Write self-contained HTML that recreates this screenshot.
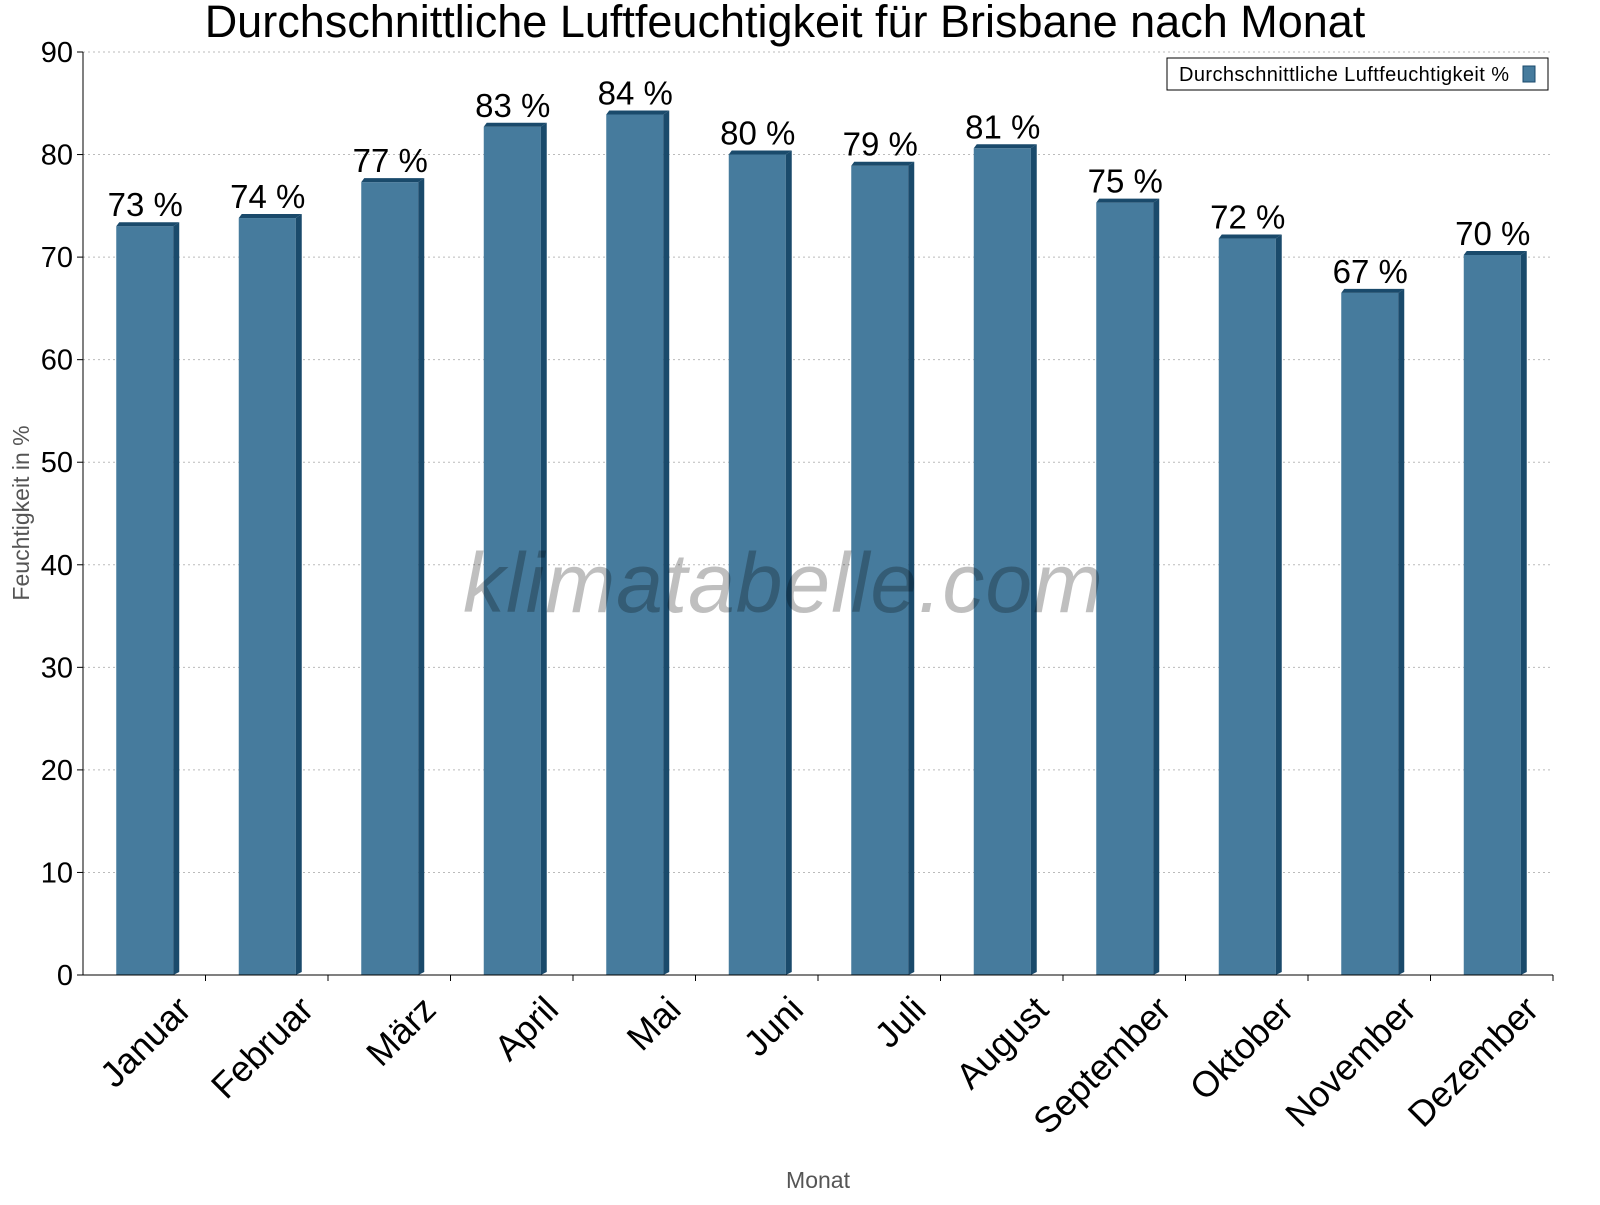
<!DOCTYPE html>
<html><head><meta charset="utf-8"><style>
body{margin:0;background:#fff;}
svg{font-family:"Liberation Sans",sans-serif;}
</style></head><body>
<svg id="chart" width="1600" height="1200" xmlns="http://www.w3.org/2000/svg">
<text x="785" y="37" font-size="45" text-anchor="middle">Durchschnittliche Luftfeuchtigkeit für Brisbane nach Monat</text>
<g id="grid"></g>
<g id="bars"></g>
<g id="axes"></g>
<text x="783" y="612" font-size="84" font-style="italic" fill="#000" fill-opacity="0.25" text-anchor="middle" textLength="640">klimatabelle.com</text>
<text transform="translate(29,513) rotate(-90)" font-size="23" fill="#555" text-anchor="middle">Feuchtigkeit in %</text>
<text x="818" y="1188" font-size="23" fill="#555" text-anchor="middle">Monat</text>
<g>
<rect x="1167" y="58" width="381" height="32" fill="#fff" stroke="#000" stroke-width="1"/>
<text x="1179" y="81" font-size="20" textLength="330">Durchschnittliche Luftfeuchtigkeit %</text>
<rect x="1523" y="66" width="12" height="16" fill="#467b9d" stroke="#1a4a6b"/>
</g>
</svg>
<script>
const categories=["Januar","Februar","März","April","Mai","Juni","Juli","August","September","Oktober","November","Dezember"];
const values=[73.4,74.2,77.7,83.1,84.3,80.4,79.3,81,75.7,72.2,66.9,70.6];
const labels=["73 %","74 %","77 %","83 %","84 %","80 %","79 %","81 %","75 %","72 %","67 %","70 %"];
const yTicks=[0,10,20,30,40,50,60,70,80,90];
const NS="http://www.w3.org/2000/svg";
const X0=83,X1=1553,Y0=975,Y1=52,YMAX=90;
const bw=(X1-X0)/categories.length;
const y=v=>Y0-(v/YMAX)*(Y0-Y1);
const xc=i=>X0+bw*(i+0.5);
function mk(tag,attrs,parent){const e=document.createElementNS(NS,tag);for(const k in attrs)e.setAttribute(k,attrs[k]);parent.appendChild(e);return e;}
const grid=document.getElementById('grid'),bars=document.getElementById('bars'),axes=document.getElementById('axes');
yTicks.forEach(t=>{
 if(t>0){const g=mk('line',{x1:X0,x2:X1,y1:y(t),y2:y(t),stroke:'#bbb','stroke-dasharray':'2,3'},grid);
 
 }
 const tk=mk('line',{x1:X0-6,x2:X0,y1:y(t),y2:y(t),stroke:'#000'},axes);
 
 
 const tl=mk('text',{x:X0-10,y:y(t)+10,'font-size':29,'text-anchor':'end'},axes);
 tl.textContent=t;
 
 
});
mk('line',{x1:X0,x2:X0,y1:Y1,y2:Y0,stroke:'#000'},axes);
mk('line',{x1:X0,x2:X1,y1:Y0,y2:Y0,stroke:'#000'},axes);
categories.forEach((c,i)=>{
 const cx=xc(i),top=y(values[i]),l=cx-28,w=57,d=6;
 const g=mk('g',{},bars);
 
 
 mk('rect',{x:l,y:top+4,width:w,height:Y0-top-4,fill:'#467b9d'},g);
 mk('polygon',{points:`${l},${top+4} ${l+3},${top} ${l+w+d},${top} ${l+w},${top+4}`,fill:'#1a4a6b'},g);
 mk('polygon',{points:`${l+w},${top+4} ${l+w+d},${top} ${l+w+d},${Y0-3} ${l+w},${Y0}`,fill:'#1a4a6b'},g);
 const vl=mk('text',{x:cx+1,y:top-6,'font-size':33,'text-anchor':'middle'},bars);
 vl.textContent=labels[i];
 
 
 const tk=mk('line',{x1:X0+bw*(i+1),x2:X0+bw*(i+1),y1:Y0,y2:Y0+6,stroke:'#000'},axes);
 
 
 const xl=mk('text',{transform:`translate(${cx+30},${Y0+18}) rotate(-45)`,'font-size':36,'text-anchor':'end','dominant-baseline':'hanging'},axes);
 xl.textContent=c;
 
 
});
</script>
</body></html>
